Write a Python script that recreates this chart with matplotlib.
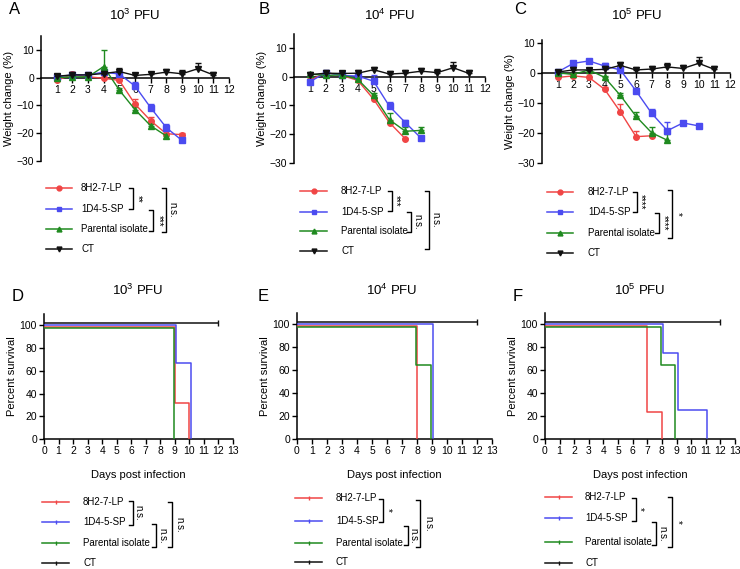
import matplotlib
matplotlib.use('Agg')
import matplotlib.pyplot as plt
import numpy as np

plt.rcParams['font.family'] = ['Liberation Sans', 'DejaVu Sans']
plt.rcParams['mathtext.default'] = 'regular'

W, H = 740, 569

names = ['8H2-7-LP', '1D4-5-SP', 'Parental isolate', 'CT']
colors = ['#f04545', '#4b4bf0', '#1f8a1f', '#111111']
markers = ['o', 's', '^', 'v']

# weight change (%), day 1 onward; upper error bars
wA = [[-1.0, 1.2, 0.3, -0.2, -1.0, -9.5, -15.5, -20.2, -20.5],
      [0.3, 1.0, 1.0, 2.0, 1.3, -3.0, -10.8, -18.0, -22.6],
      [0.0, 0.3, 0.3, 4.0, -4.5, -11.5, -17.3, -21.0],
      [0.5, 1.0, 1.0, 1.5, 2.2, 0.8, 1.2, 2.0, 1.4, 3.2, 1.0]]
eA = [[0.8, 1.0, 0.5, 0.3, 0.8, 2.0, 1.5, 1.2, 0.5],
      [0.5, 0.5, 0.5, 0.8, 1.0, 1.5, 1.5, 1.5, 0.5],
      [0.3, 0.5, 0.5, 6.0, 0.8, 1.0, 0.8, 0.5],
      [0.8, 1.0, 0.8, 1.0, 1.2, 1.0, 1.0, 1.2, 1.2, 2.0, 1.2]]

wB = [[-1.2, 1.5, 0.5, -1.2, -7.8, -16.0, -21.7],
      [-1.7, 1.5, 0.5, 0.3, -1.5, -10.3, -16.0, -21.5],
      [1.0, 0.5, 0.7, -0.8, -6.5, -15.0, -19.0, -18.7],
      [0.8, 1.3, 1.2, 1.3, 2.5, 1.0, 1.3, 2.0, 1.5, 3.2, 1.2]]
eB = [[0.5, 0.5, 0.5, 0.5, 0.5, 0.5, 0.3],
      [0.5, 0.5, 1.5, 1.0, 2.0, 1.5, 0.8, 0.5],
      [0.3, 0.3, 0.3, 0.5, 0.8, 2.5, 1.5, 1.2],
      [0.8, 1.0, 0.8, 1.0, 1.0, 1.0, 1.0, 1.2, 1.2, 2.0, 1.2]]

wC = [[-1.5, -1.0, -1.5, -5.5, -13.0, -21.3, -21.0],
      [0.3, 3.2, 4.0, 2.3, 1.0, -6.0, -13.5, -19.3, -16.7, -17.7],
      [0.0, -0.5, 1.0, -1.5, -7.5, -14.5, -20.0, -22.5],
      [0.3, 1.0, 1.0, 1.2, 2.5, 1.0, 1.3, 2.0, 1.5, 3.2, 1.2]]
eC = [[1.0, 0.8, 1.5, 0.8, 2.5, 2.0, 0.5],
      [0.5, 0.8, 0.8, 1.0, 1.0, 0.8, 1.5, 3.0, 0.3, 0.3],
      [0.5, 0.5, 0.5, 0.5, 0.8, 1.5, 2.0, 2.0],
      [0.8, 1.0, 0.8, 1.0, 1.0, 1.0, 1.0, 1.2, 1.2, 2.0, 1.2]]

# survival: (times of change, percent)
sD = [([0, 9, 10], [100, 33.3, 0]),
      ([0, 9, 10], [100, 66.7, 0]),
      ([0, 9], [100, 0]),
      ([0, 12], [100, 100])]
sE = [([0, 8], [100, 0]),
      ([0, 9], [100, 0]),
      ([0, 8, 9], [100, 66.7, 0]),
      ([0, 12], [100, 100])]
sF = [([0, 7, 8], [100, 25, 0]),
      ([0, 8, 9, 11], [100, 75, 25, 0]),
      ([0, 8, 9], [100, 66.7, 0]),
      ([0, 12], [100, 100])]

# graphpad-like nudges so overlapping curves stay visible
dy = [-1.5, 0.5, -2.5, 2.2]
dx = [0.0, 0.08, -0.08, 0.0]

fig = plt.figure(figsize=(W / 100, H / 100), dpi=100)

ov = fig.add_axes([0, 0, 1, 1])
ov.set_xlim(0, W)
ov.set_ylim(H, 0)
ov.axis('off')


def px_axes(l, t, r, b):
    return fig.add_axes([l / W, 1 - b / H, (r - l) / W, (b - t) / H])


def style(ax):
    for s in ['top', 'right']:
        ax.spines[s].set_visible(False)
    for s in ['left', 'bottom']:
        ax.spines[s].set_linewidth(1.1)
    ax.tick_params(length=3.5, width=1.0, labelsize=7.5, pad=1.5)
    ax.patch.set_visible(False)


def weight_panel(rect, top, data, errs):
    ax = px_axes(*rect)
    style(ax)
    for i in range(4):
        y = np.array(data[i])
        x = np.arange(1, len(y) + 1)
        e = np.array(errs[i])
        ax.errorbar(x, y, yerr=[np.zeros_like(e), e], color=colors[i], marker=markers[i],
                    ms=4, lw=1.0, elinewidth=1.0, capsize=2.5, capthick=1.0, zorder=3 + (i == 3))
    ax.set_xlim(0, 12)
    ax.set_ylim(-30, top)
    ax.spines['bottom'].set_position(('data', 0))
    ax.set_xticks(range(1, 13))
    ax.set_yticks([-30, -20, -10, 0, 10])
    ax.set_ylabel('Weight change (%)', fontsize=8, labelpad=2)
    return ax


def survival_panel(rect, data):
    ax = px_axes(*rect)
    style(ax)
    for i in range(4):
        t, s = data[i]
        t = np.array(t, float) + dx[i]
        t[0] = 0
        s = np.array(s, float) + dy[i]
        ax.step(t, s, where='post', color=colors[i], lw=1.1, zorder=3)
        if i == 3:
            ax.plot(t[-1], s[-1], marker='|', ms=4, color=colors[i])
    ax.set_xlim(0, 13)
    ax.set_ylim(0, 110)
    ax.set_xticks(range(0, 14))
    ax.set_yticks(range(0, 101, 20))
    ax.set_ylabel('Percent survival', fontsize=8, labelpad=2)
    ax.set_xlabel('Days post infection', fontsize=8, labelpad=10)
    return ax


weight_panel((41, 36, 229, 161), 15, wA, eA)
weight_panel((294, 34, 485, 162.7), 15, wB, eB)
weight_panel((542, 40, 730, 162.7), 11, wC, eC)
survival_panel((44, 314, 233, 439), sD)
survival_panel((297, 313, 492, 439), sE)
survival_panel((545, 313, 735, 439), sF)

# titles and panel letters
titles = [r'10$^{3}$ PFU', r'10$^{4}$ PFU', r'10$^{5}$ PFU']
for cx, cy, tt in [(135, 15, 0), (390, 15, 1), (637, 15, 2),
                   (138, 290, 0), (392, 290, 1), (640, 290, 2)]:
    ov.text(cx, cy, titles[tt], ha='center', va='center', fontsize=9.5)
letters = [(15, 9, 'A'), (264, 9, 'B'), (520, 9, 'C'),
           (18, 296, 'D'), (263, 296, 'E'), (518, 296, 'F')]
for x, y, lab in letters:
    ov.text(x, y, lab, ha='center', va='center', fontsize=12)


def legend(x0, x1, ys, tx, with_markers):
    for i in range(4):
        ov.plot([x0, x1], [ys[i], ys[i]], color=colors[i], lw=1.1)
        if with_markers:
            ov.plot((x0 + x1) / 2, ys[i], marker=markers[i], ms=3.5, color=colors[i])
        else:
            ov.plot((x0 + x1) / 2, ys[i], marker='|', ms=3, color=colors[i])
        ov.text(tx, ys[i], names[i], va='center', ha='left', fontsize=7)


def bracket(x, y1, y2, label, lx, w=4):
    ov.plot([x - w, x, x, x - w], [y1, y1, y2, y2], color='k', lw=1.0)
    ov.text(lx, (y1 + y2) / 2, label, rotation=270, ha='center', va='center', fontsize=7)


legend(46, 72, [188, 209, 229, 249], 81, True)
bracket(133, 188, 209, '**', 137.5)
bracket(153, 210, 231, '***', 158.5)
bracket(166, 188, 232, 'n.s.', 172)

legend(300, 327, [191, 211.7, 231, 251], 341, True)
bracket(392, 191, 211, '***', 396)
bracket(411, 212, 232, 'n.s.', 417)
bracket(429, 191, 249, 'n.s.', 435)

legend(547, 573, [191.7, 211.7, 232.7, 253], 588, True)
bracket(637, 192, 212, '****', 641)
bracket(659, 213, 233, '****', 664)
bracket(672, 190, 238, '*', 677.5)

legend(42, 69, [501.7, 522, 542.7, 563], 83, False)
bracket(133, 501, 525, 'n.s.', 138)
bracket(156, 524, 547, 'n.s.', 162)
bracket(172, 501.7, 547, 'n.s.', 179)

legend(295, 322, [498.3, 520.7, 542.7, 562.3], 336, False)
bracket(383, 499, 521.7, '*', 388)
bracket(408, 525.7, 545, 'n.s.', 413.5)
bracket(420, 500, 546.7, 'n.s.', 428)

legend(545, 572, [497.3, 518.3, 542.3, 563.3], 585, False)
bracket(636, 497.7, 520.7, '*', 640)
bracket(656, 522.3, 545, 'n.s.', 662)
bracket(672, 497.3, 546.7, '*', 678)

fig.savefig('out.png', dpi=100)
